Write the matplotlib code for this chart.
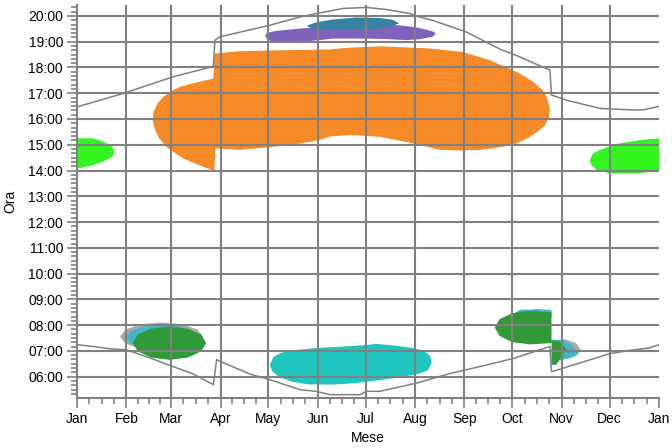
import matplotlib
matplotlib.use("Agg")
import matplotlib.pyplot as plt
import numpy as np

plt.rcParams['font.family'] = ['Liberation Sans', 'DejaVu Sans']

# month starts (day of year) and labels
month_days = [0, 31, 59, 90, 120, 151, 181, 212, 243, 273, 304, 334, 365]
month_labels = ['Jan', 'Feb', 'Mar', 'Apr', 'May', 'Jun', 'Jul', 'Aug', 'Sep', 'Oct', 'Nov', 'Dec', 'Jan']
hours = list(range(6, 21))

# sunset curve (day, hour)
sunset_day = [0, 29, 60.4, 84.4, 85.5, 86.5, 89.7, 121, 140, 150, 167, 181.6, 194, 209, 213, 223,
              244, 265, 277.7, 292, 296.6, 297.6, 307, 328, 348.8, 355, 363.4, 365]
sunset_hr = [16.47, 16.99, 17.64, 18.02, 18.05, 19.06, 19.19, 19.64, 19.96, 20.09, 20.29, 20.33, 20.25,
             20.09, 19.99, 19.83, 19.38, 18.72, 18.41, 18.02, 17.9, 16.93, 16.73, 16.41, 16.35, 16.35, 16.47, 16.5]

# sunrise curve (day, hour)
sunrise_day = [0, 10, 20.7, 31, 46, 59, 72.9, 85.5, 87.6, 89.7, 108.5, 121, 140, 150, 158.6, 177.4,
               181.6, 190, 213, 233.9, 254.7, 274, 296.6, 297.6, 305, 334, 346.5, 359, 365]
sunrise_hr = [7.24, 7.17, 7.08, 7.04, 6.72, 6.42, 6.1, 5.69, 6.66, 6.59, 6.1, 5.88, 5.49, 5.43, 5.3, 5.3,
              5.43, 5.43, 5.75, 6.12, 6.42, 6.71, 7.17, 6.19, 6.33, 6.89, 7.02, 7.11, 7.24]

# shaded regions, outlines as (day, hour)
orange_day = [47.4, 48.2, 50.5, 54, 59, 64.6, 75, 85.5, 86.2, 102, 130, 158.6, 169, 190, 221, 242, 259,
              275.7, 286, 292, 295, 296.6, 296, 293.5, 290, 284, 275.7, 265, 252.7, 240, 227.6, 211,
              190, 171, 158.6, 152, 140, 123, 102, 86.8, 86.2, 84.4, 75, 66.6, 61, 56, 51.5, 49]
orange_hr = [15.96, 16.3, 16.6, 16.85, 17.08, 17.25, 17.42, 17.57, 18.54, 18.63, 18.67, 18.7, 18.76, 18.82,
             18.74, 18.6, 18.28, 17.83, 17.45, 17.12, 16.8, 16.4, 16.05, 15.75, 15.57, 15.3, 15.05, 14.9,
             14.8, 14.78, 14.8, 15.05, 15.31, 15.38, 15.32, 15.18, 15.05, 14.92, 14.8, 14.86, 14.02, 14.02,
             14.25, 14.47, 14.7, 14.92, 15.25, 15.57]

purple_day = [118, 119, 125, 140, 150, 175, 202, 212, 219, 224, 225, 223, 215, 206.7, 195, 181.6,
              160.7, 150, 140, 123, 119]
purple_hr = [19.25, 19.34, 19.42, 19.51, 19.57, 19.62, 19.64, 19.56, 19.47, 19.38, 19.3, 19.19, 19.1,
             19.06, 19.1, 19.12, 19.12, 19.05, 18.99, 18.99, 19.1]

blue_day = [144, 150, 160, 175, 190, 198, 202, 198, 185, 160, 148]
blue_hr = [19.62, 19.75, 19.86, 19.94, 19.92, 19.85, 19.72, 19.6, 19.48, 19.45, 19.5]

lime1_day = [0, 10, 16.3, 20.5, 22.8, 23.4, 22, 18.6, 14, 10.2, 0.8, 0]
lime1_hr = [15.25, 15.25, 15.12, 15.0, 14.86, 14.67, 14.52, 14.41, 14.3, 14.21, 14.08, 14.08]

lime2_day = [321.6, 323.5, 328, 340, 353, 365, 365, 353, 334, 326, 322.7]
lime2_hr = [14.41, 14.65, 14.8, 15.05, 15.18, 15.25, 14.02, 13.89, 13.89, 14.02, 14.21]

cyan_day = [121, 123, 128, 138, 150, 165, 180, 188, 200, 211, 218, 221.5, 222.4, 220, 215, 205, 192,
            175, 160.7, 145, 135, 127, 122.5]
cyan_hr = [6.45, 6.75, 6.93, 7.04, 7.11, 7.16, 7.22, 7.27, 7.2, 7.11, 6.98, 6.8, 6.5, 6.25, 6.12, 6.0,
           5.88, 5.75, 5.69, 5.7, 5.8, 5.98, 6.2]

feb_gray_day = [79, 75.5, 66, 53, 40, 30.5, 27, 30.5, 40, 53, 66, 75.5]
feb_gray_hr = [7.55, 7.83, 8.03, 8.1, 8.03, 7.83, 7.55, 7.28, 7.07, 7.0, 7.07, 7.28]
feb_cyan_day = [75.3, 72.3, 64.2, 53, 41.9, 33.7, 30.7, 33.7, 41.9, 53, 64.2, 72.3]
feb_cyan_hr = [7.52, 7.76, 7.94, 8.0, 7.94, 7.76, 7.52, 7.28, 7.1, 7.04, 7.1, 7.28]
feb_green_day = [81, 77.9, 69.5, 58, 46.5, 38.1, 35, 38.1, 46.5, 58, 69.5, 77.9]
feb_green_hr = [7.3, 7.63, 7.86, 7.95, 7.86, 7.63, 7.3, 6.98, 6.74, 6.65, 6.74, 6.98]

oct_cyan_day = [274, 278, 285, 288, 297.6, 297.6]
oct_cyan_hr = [8.45, 8.6, 8.6, 8.63, 8.58, 8.3]
oct_green_day = [297.6, 284, 273, 265, 262, 265, 273, 284, 297.6]
oct_green_hr = [8.5, 8.55, 8.46, 8.23, 7.9, 7.58, 7.34, 7.25, 7.3]

nov_gray_day = [297.6, 306, 313, 316, 314, 309, 300]
nov_gray_hr = [7.42, 7.45, 7.3, 7.04, 6.85, 6.72, 6.6]
nov_cyan_day = [297.6, 304, 310, 314, 312, 309, 300]
nov_cyan_hr = [7.42, 7.42, 7.25, 6.91, 6.78, 6.72, 6.6]
nov_green_day = [297.6, 302.8, 307, 303, 300.7, 297.6]
nov_green_hr = [7.42, 7.36, 7.05, 6.7, 6.46, 6.46]

grey = '#808080'

fig = plt.figure(figsize=(6.72, 4.48), dpi=100)
ax = fig.add_axes([0.1146, 0.1116, 0.866, 0.877])

ax.fill(orange_day, orange_hr, color='#F58A27', lw=0, zorder=1)
ax.fill(purple_day, purple_hr, color='#8061BE', lw=0, zorder=1)
ax.fill(blue_day, blue_hr, color='#3781A3', lw=0, zorder=1.1)
ax.fill(lime1_day, lime1_hr, color='#33F51F', lw=0, zorder=1)
ax.fill(lime2_day, lime2_hr, color='#33F51F', lw=0, zorder=1)
ax.fill(cyan_day, cyan_hr, color='#1FC6BF', lw=0, zorder=1)
ax.fill(feb_gray_day, feb_gray_hr, color='#A8A8A8', lw=0, zorder=1)
ax.fill(feb_cyan_day, feb_cyan_hr, color='#3FB6CB', lw=0, zorder=1.1)
ax.fill(feb_green_day, feb_green_hr, color='#2F9A37', lw=0, zorder=1.2)
ax.fill(oct_cyan_day, oct_cyan_hr, color='#3FB6CB', lw=0, zorder=1.1)
ax.fill(oct_green_day, oct_green_hr, color='#2F9A37', lw=0, zorder=1.2)
ax.fill(nov_gray_day, nov_gray_hr, color='#A8A8A8', lw=0, zorder=1)
ax.fill(nov_cyan_day, nov_cyan_hr, color='#3FB6CB', lw=0, zorder=1.1)
ax.fill(nov_green_day, nov_green_hr, color='#2F9A37', lw=0, zorder=1.2)

# grid on top of the regions
for d in month_days[1:-1]:
    ax.axvline(d, color=grey, lw=1.5, zorder=2)
for h in hours:
    ax.axhline(h, color=grey, lw=1.5, zorder=2)

ax.plot(sunset_day, sunset_hr, color=grey, lw=1.1, zorder=3)
ax.plot(sunrise_day, sunrise_hr, color=grey, lw=1.1, zorder=3)

ax.set_xlim(0, 365)
ax.set_ylim(5.17, 20.42)

ax.set_xticks(month_days)
ax.set_xticklabels(month_labels)
minor_x = []
for a, b in zip(month_days[:-1], month_days[1:]):
    minor_x += [a + (b - a) * k / 4 for k in (1, 2, 3)]
ax.set_xticks(minor_x, minor=True)
ax.set_yticks(hours)
ax.set_yticklabels(['%02d:00' % h for h in hours])
ax.set_yticks(np.arange(5 + 1 / 3, 20.42, 1 / 6), minor=True)

ax.tick_params(axis='both', which='major', length=7, width=1.2, color=grey, labelsize=10, pad=3)
ax.tick_params(axis='both', which='minor', length=4, width=1.2, color=grey)

for s in ['top', 'right']:
    ax.spines[s].set_visible(False)
for s in ['left', 'bottom']:
    ax.spines[s].set_color(grey)
    ax.spines[s].set_linewidth(1.5)

ax.set_xlabel('Mese', fontsize=10, labelpad=4)
ax.set_ylabel('Ora', fontsize=10, labelpad=8)

fig.savefig('out.png', dpi=100)
